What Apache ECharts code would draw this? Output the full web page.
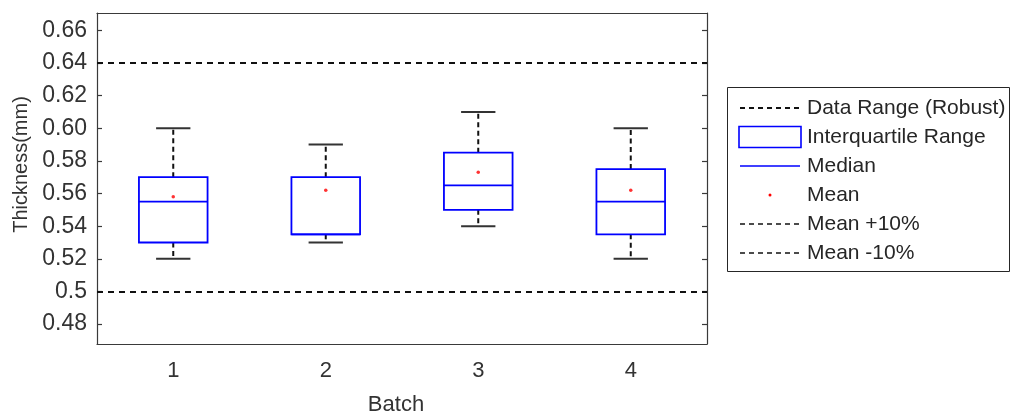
<!DOCTYPE html>
<html>
<head>
<meta charset="utf-8">
<script src="https://cdn.jsdelivr.net/npm/echarts@6/dist/echarts.min.js"></script>
<style>
  html, body { margin: 0; padding: 0; background: #fff; }
  #chart { width: 1015px; height: 414px; }
</style>
</head>
<body>
<div id="chart"></div>
<script>
// Thickness per batch: robust whisker range, quartiles, median and mean
const categories = ['1', '2', '3', '4'];
const lowerWhisker = [0.52, 0.53, 0.54, 0.52];
const q1 = [0.53, 0.535, 0.55, 0.535];
const median = [0.555, 0.535, 0.565, 0.555];
const q3 = [0.57, 0.57, 0.585, 0.575];
const upperWhisker = [0.60, 0.59, 0.61, 0.60];
const means = [0.558, 0.562, 0.573, 0.562];

// Tolerance band around the overall mean
const meanPlus10 = 0.64;
const meanMinus10 = 0.5;

// Y axis ticks and their printed labels
const yTickValues = [0.48, 0.50, 0.52, 0.54, 0.56, 0.58, 0.60, 0.62, 0.64, 0.66];
const yTickLabels = ['0.48', '0.5', '0.52', '0.54', '0.56', '0.58', '0.60', '0.62', '0.64', '0.66'];
const yMin = 0.4678;
const yMax = 0.6706;

const legendItems = ['Data Range (Robust)', 'Interquartile Range', 'Median', 'Mean', 'Mean +10%', 'Mean -10%'];

const TEXT = '#333333';
const AXIS = '#3a3a3a';
const FONT = 'Liberation Sans, Arial, sans-serif';

const boxData = categories.map((c, i) => [i, lowerWhisker[i], q1[i], median[i], q3[i], upperWhisker[i]]);
const meanData = categories.map((c, i) => [i, means[i]]);

function labelFor(v) {
  let best = 0;
  for (let k = 1; k < yTickValues.length; k++) {
    if (Math.abs(yTickValues[k] - v) < Math.abs(yTickValues[best] - v)) best = k;
  }
  return yTickLabels[best];
}

function renderBox(params, api) {
  const idx = api.value(0);
  const pLow = api.coord([idx, api.value(1)]);
  const pQ1 = api.coord([idx, api.value(2)]);
  const pMed = api.coord([idx, api.value(3)]);
  const pQ3 = api.coord([idx, api.value(4)]);
  const pHigh = api.coord([idx, api.value(5)]);
  const band = api.size([1, 0])[0];
  const w = band * 0.45;
  const cw = w * 0.5;
  const cx = pQ1[0];
  const whisker = { stroke: '#111', lineWidth: 2, lineDash: [5, 3.5] };
  const cap = { stroke: '#333', lineWidth: 2 };
  const blue = { stroke: '#0000ff', lineWidth: 1.8, fill: null };
  return {
    type: 'group',
    children: [
      { type: 'line', shape: { x1: cx, y1: pQ3[1], x2: cx, y2: pHigh[1] }, style: whisker },
      { type: 'line', shape: { x1: cx, y1: pQ1[1], x2: cx, y2: pLow[1] }, style: whisker },
      { type: 'line', shape: { x1: cx - cw / 2, y1: pHigh[1], x2: cx + cw / 2, y2: pHigh[1] }, style: cap },
      { type: 'line', shape: { x1: cx - cw / 2, y1: pLow[1], x2: cx + cw / 2, y2: pLow[1] }, style: cap },
      { type: 'rect', shape: { x: cx - w / 2, y: pQ3[1], width: w, height: pQ1[1] - pQ3[1] }, style: blue },
      { type: 'line', shape: { x1: cx - w / 2, y1: pMed[1], x2: cx + w / 2, y2: pMed[1] }, style: { stroke: '#0000ff', lineWidth: 1.8 } }
    ]
  };
}

// Legend drawn as a framed panel
const lgX = 727.5, lgY = 87.5, lgW = 282, lgH = 184;
const rowY = [108, 137, 166, 195, 224, 253];
const iconL = 740, iconR = 800;
const legendGraphics = [
  { type: 'rect', shape: { x: lgX, y: lgY, width: lgW, height: lgH }, style: { fill: '#fff', stroke: '#262626', lineWidth: 1 } },
  { type: 'line', shape: { x1: iconL, y1: rowY[0], x2: iconR, y2: rowY[0] }, style: { stroke: '#111', lineWidth: 1.8, lineDash: [5, 4] } },
  { type: 'rect', shape: { x: iconL - 1, y: rowY[1] - 10.5, width: iconR - iconL + 2, height: 21 }, style: { fill: null, stroke: '#0000ff', lineWidth: 1.6 } },
  { type: 'line', shape: { x1: iconL, y1: rowY[2], x2: iconR, y2: rowY[2] }, style: { stroke: '#0000ff', lineWidth: 1.6 } },
  { type: 'circle', shape: { cx: (iconL + iconR) / 2, cy: rowY[3], r: 1.5 }, style: { fill: '#ff0000' } },
  { type: 'line', shape: { x1: iconL, y1: rowY[4], x2: iconR, y2: rowY[4] }, style: { stroke: '#111', lineWidth: 1.3, lineDash: [5, 4] } },
  { type: 'line', shape: { x1: iconL, y1: rowY[5], x2: iconR, y2: rowY[5] }, style: { stroke: '#111', lineWidth: 1.3, lineDash: [5, 4] } }
].concat(legendItems.map((t, i) => ({
  type: 'text', x: 807, y: rowY[i],
  style: { text: t, fill: '#262626', font: '21px ' + FONT, textVerticalAlign: 'middle', textAlign: 'left' }
})));

const chart = echarts.init(document.getElementById('chart'), null, { renderer: 'canvas' });
chart.setOption({
  animation: false,
  backgroundColor: '#fff',
  textStyle: { fontFamily: FONT, color: TEXT },
  grid: { left: 97, right: 308, top: 13, bottom: 70, containLabel: false, outerBoundsMode: 'none' },
  xAxis: [
    {
      type: 'category', data: categories, boundaryGap: true, position: 'bottom',
      name: 'Batch', nameLocation: 'middle', nameGap: 50,
      nameTextStyle: { fontSize: 22, color: TEXT, fontFamily: FONT, padding: [0, 12, 0, 0] },
      axisLine: { lineStyle: { color: AXIS, width: 1.2 } },
      axisTick: { inside: true, alignWithLabel: true, length: 5, lineStyle: { color: AXIS, width: 1.2 } },
      axisLabel: { fontSize: 22, color: TEXT, margin: 16, fontFamily: FONT },
      splitLine: { show: false }
    },
    {
      type: 'category', data: categories, boundaryGap: true, position: 'top',
      axisLine: { lineStyle: { color: AXIS, width: 1.2 } },
      axisTick: { inside: true, alignWithLabel: true, length: 5, lineStyle: { color: AXIS, width: 1.2 } },
      axisLabel: { show: false },
      splitLine: { show: false }
    }
  ],
  yAxis: [
    {
      type: 'value', min: yMin, max: yMax, position: 'left',
      name: 'Thickness(mm)', nameLocation: 'middle', nameGap: 63, nameRotate: 90,
      nameTextStyle: { fontSize: 20, color: TEXT, fontFamily: FONT, padding: [0, 0, 0, 28] },
      axisLine: { show: true, lineStyle: { color: AXIS, width: 1.2 } },
      axisTick: { show: true, inside: true, length: 5, customValues: yTickValues, lineStyle: { color: AXIS, width: 1.2 } },
      axisLabel: { fontSize: 23, color: TEXT, margin: 10, customValues: yTickValues, formatter: labelFor, fontFamily: FONT },
      splitLine: { show: false }
    },
    {
      type: 'value', min: yMin, max: yMax, position: 'right',
      axisLine: { show: true, lineStyle: { color: AXIS, width: 1.2 } },
      axisTick: { show: true, inside: true, length: 5, customValues: yTickValues, lineStyle: { color: AXIS, width: 1.2 } },
      axisLabel: { show: false },
      splitLine: { show: false }
    }
  ],
  series: [
    {
      name: 'Interquartile Range',
      type: 'custom',
      xAxisIndex: 0, yAxisIndex: 0,
      renderItem: renderBox,
      encode: { x: 0, y: [1, 2, 3, 4, 5] },
      data: boxData,
      z: 3,
      markLine: {
        silent: true, symbol: 'none', label: { show: false },
        lineStyle: { color: '#111', width: 1.8, type: [6, 5] },
        data: [{ yAxis: meanPlus10 }, { yAxis: meanMinus10 }]
      }
    },
    {
      name: 'Mean',
      type: 'scatter',
      xAxisIndex: 0, yAxisIndex: 0,
      symbol: 'circle', symbolSize: 3.5,
      itemStyle: { color: '#ff0000' },
      data: meanData,
      z: 4
    }
  ],
  graphic: legendGraphics
});
</script>
</body>
</html>
